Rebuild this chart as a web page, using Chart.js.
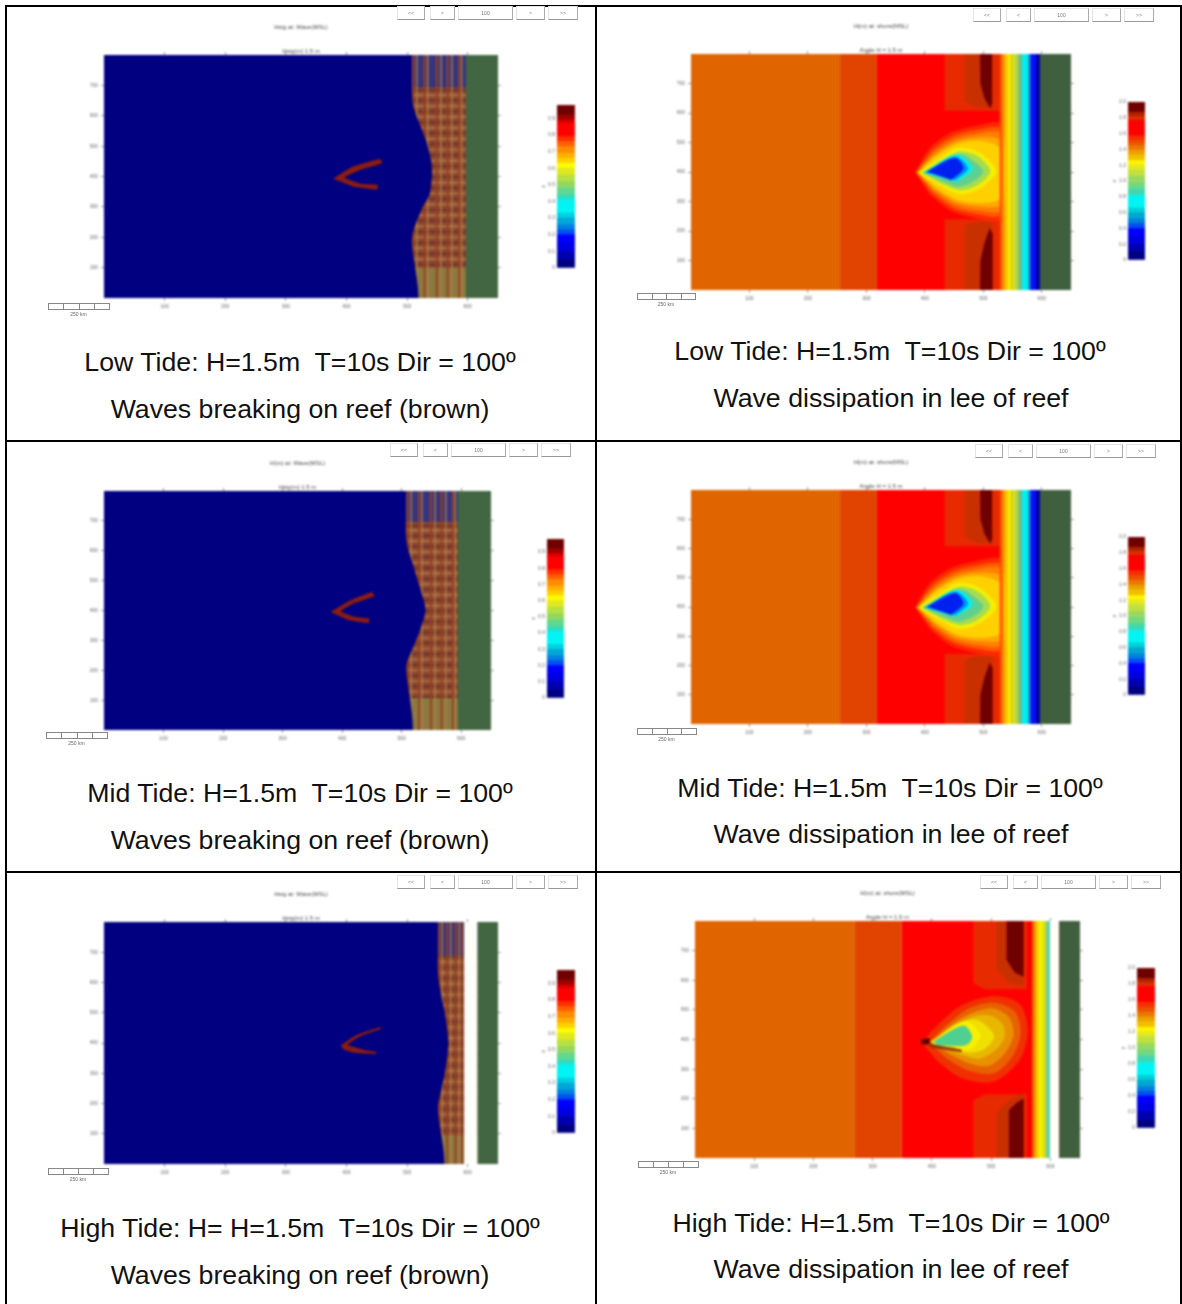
<!DOCTYPE html>
<html lang="en">
<head>
<meta charset="UTF-8">
<title>Wave model results by tide</title>
<script src="https://cdn.jsdelivr.net/npm/chart.js"></script>
<style>
  html, body { margin: 0; padding: 0; background: #fff; }
  #page { position: relative; width: 1182px; height: 1304px; overflow: hidden; font-family: "Liberation Sans", Arial, sans-serif; }
  .rule { position: absolute; background: #000; }
  .cap { position: absolute; font-size: 26.7px; line-height: 30px; color: #111; white-space: pre; transform: translateX(-50%); }
  canvas { position: absolute; filter: blur(0.8px); }
  .tool { position: absolute; box-sizing: border-box; border: 1px solid #e4e4e4; border-bottom-color: #999; border-right-color: #aaa; font-size: 5px; color: #777; text-align: center; filter: blur(0.4px); }
  .cell { position: absolute; box-sizing: border-box; border: 1px solid #888; filter: blur(0.4px); }
  .km { position: absolute; font-size: 5px; color: #666; transform: translateX(-50%); filter: blur(0.3px); }
</style>
</head>
<body>
<div id="page"></div>
<script>
// axis ticks
const xTicks = [100, 200, 300, 400, 500, 600];
const yTicks = [100, 200, 300, 400, 500, 600, 700];
const barTicksWave = [0, 0.1, 0.2, 0.3, 0.4, 0.5, 0.6, 0.7, 0.8, 0.9];
const barTicksHeight = [0, 0.2, 0.4, 0.6, 0.8, 1, 1.2, 1.4, 1.6, 1.8, 2];
const toolLabels = ['<<', '<', '100', '>', '>>'];

// captions
const tideLow = 'Low Tide: H=1.5m  T=10s Dir = 100º';
const tideMid = 'Mid Tide: H=1.5m  T=10s Dir = 100º';
const tideHighA = 'High Tide: H= H=1.5m  T=10s Dir = 100º';
const tideHighB = 'High Tide: H=1.5m  T=10s Dir = 100º';
const noteBreak = 'Waves breaking on reef (brown)';
const noteDiss = 'Wave dissipation in lee of reef';

// colour bar level widths, bottom to top
const barStepsWave = [0.05, 0.05, 0.05, 0.05, 0.03, 0.03, 0.04, 0.03, 0.08, 0.03, 0.04, 0.04, 0.04, 0.04, 0.03, 0.03, 0.03, 0.04, 0.03, 0.03, 0.08, 0.02, 0.03, 0.06];
const barStepsHeight = [0.1, 0.1, 0.1, 0.1, 0.06, 0.06, 0.08, 0.06, 0.16, 0.08, 0.08, 0.08, 0.08, 0.06, 0.06, 0.07, 0.06, 0.06, 0.06, 0.06, 0.2, 0.05, 0.05, 0.13];

// breaking zone mesh, model coordinates (m)
const meshX = [510, 516, 529, 534, 549, 556, 567, 574, 586, 590];
const meshXHigh = [553, 558, 566, 572, 580, 586, 591];
const meshYDark = [110, 146, 182, 218, 254, 290, 326, 362, 398, 434, 470, 506, 542, 578, 614, 650, 684];
const meshYTan = [128, 164, 200, 236, 272, 308, 344, 380, 416, 452, 488, 524, 560, 596, 632, 668];

// edge of the unbroken water
const shoreLow = [[508, 850], [508, 680], [511, 625], [530, 526], [540, 450], [541, 400], [537, 340], [525, 296], [511, 225], [508, 190], [508, -50], [-50, -50], [-50, 850]];
const shoreMid = [[507, 850], [507, 660], [510, 612], [518, 560], [530, 480], [540, 401], [530, 330], [518, 270], [508, 217], [507, -50], [-50, -50], [-50, 850]];
const shoreHigh = [[551, 850], [551, 631], [556, 560], [564, 480], [568, 400], [564, 320], [556, 240], [551, 189], [551, -50], [-50, -50], [-50, 850]];

// reef outlines
const reefLow = [[378, 393], [410, 432], [455, 458], [459, 444], [426, 424], [397, 397], [425, 376], [452, 372], [450, 357], [412, 366]];
const reefMid = [[380, 395], [412, 432], [450, 462], [454, 448], [420, 424], [398, 397], [424, 378], [446, 372], [444, 358], [410, 368]];
const reefHigh = [[390, 392], [415, 425], [455, 452], [457, 446], [425, 424], [402, 394], [428, 378], [450, 370], [448, 364], [412, 368], [396, 378]];

// land and dry strips as x ranges
const landLow = [597, 650];
const landMid = [594, 650];
const landHigh = [616, 650];
const dryHigh = [594, 616];

// height field: offshore steps
const stepsLow = [255, 318];
const stepsHigh = [270, 349];

// height field: bands at the shore
const shoreBandsLow = [528, 532, 536, 541, 548, 556, 562, 566, 577, 581, 590, 598];
const shoreBandsHigh = [569, 574, 578, 589, 594, 599];

// height field: sheltered patches behind the reef
const patchOuterTop = [[434, 850], [434, 608], [528, 608], [528, 850]];
const patchMidTop = [[468, 850], [468, 640], [492, 618], [516, 618], [516, 850]];
const patchDarkTop = [[494, 850], [495, 700], [502, 650], [512, 615], [516, 640], [515, 850]];
const patchOuterBot = [[434, -50], [434, 240], [528, 240], [528, -50]];
const patchMidBot = [[468, -50], [468, 220], [492, 232], [516, 232], [516, -50]];
const patchDarkBot = [[494, -50], [495, 100], [502, 160], [511, 210], [516, 190], [516, -50]];

const patchOuterTopHigh = [[470, 850], [470, 590], [490, 570], [560, 570], [560, 850]];
const patchMidTopHigh = [[509, 850], [509, 640], [530, 590], [555, 582], [555, 850]];
const patchDarkTopHigh = [[526, 850], [526, 669], [540, 625], [555, 612], [555, 850]];
const patchOuterBotHigh = [[470, -50], [470, 195], [490, 215], [560, 215], [560, -50]];
const patchMidBotHigh = [[509, -50], [509, 150], [530, 195], [555, 220], [555, -50]];
const patchDarkBotHigh = [[530, -50], [530, 162], [542, 185], [555, 201], [555, -50]];

// height field: contours in the lee of the reef, outermost first
const haloLow = [
  [[383, 398], [408, 480], [443, 532], [483, 555], [531, 562], [540, 400], [531, 238], [483, 245], [443, 270], [408, 325]],
  [[385, 398], [412, 472], [447, 520], [487, 542], [531, 545], [540, 400], [531, 255], [487, 258], [447, 280], [412, 330]],
  [[386, 398], [415, 465], [450, 510], [490, 530], [531, 530], [540, 400], [531, 270], [490, 270], [450, 290], [415, 335]],
  [[387, 398], [418, 460], [452, 502], [493, 518], [531, 505], [540, 400], [531, 290], [493, 283], [452, 298], [418, 340]],
  [[388, 398], [420, 455], [455, 495], [495, 505], [530, 480], [540, 400], [530, 310], [495, 295], [455, 305], [420, 345]],
  [[389, 398], [425, 445], [457, 482], [494, 465], [522, 402], [494, 345], [460, 325], [425, 355]],
  [[394, 398], [430, 440], [460, 470], [492, 452], [512, 402], [490, 355], [460, 338], [428, 360]],
  [[397, 398], [432, 432], [462, 460], [488, 430], [500, 402], [485, 370], [458, 350], [430, 368]],
  [[398, 398], [454, 460], [482, 410], [454, 367]],
  [[400, 398], [452, 452], [474, 412], [452, 372]],
  [[404, 402], [451, 448], [466, 412], [445, 373]]
];
const haloHigh = [
  [[383, 390], [410, 450], [450, 515], [504, 547], [548, 520], [562, 430], [548, 330], [504, 258], [450, 270], [410, 325]],
  [[395, 390], [425, 450], [462, 505], [504, 525], [540, 495], [550, 420], [535, 340], [504, 285], [462, 295], [425, 335]],
  [[400, 390], [430, 445], [468, 490], [504, 505], [530, 475], [538, 415], [522, 350], [495, 310], [462, 320], [430, 350]],
  [[402, 390], [435, 445], [470, 478], [500, 480], [520, 450], [522, 405], [505, 360], [480, 335], [455, 345], [432, 360]],
  [[405, 392], [445, 450], [470, 468], [490, 450], [505, 410], [490, 370], [465, 355], [440, 365]],
  [[398, 393], [455, 462], [482, 415], [465, 368], [410, 372]],
  [[402, 393], [453, 447], [468, 410], [458, 381], [410, 380]]
];
const reefTipHigh = [[382, 400], [396, 404], [396, 384], [382, 384]];
const reefArmHigh = [[396, 386], [450, 366], [450, 358], [396, 374]];

// styles
const waveBarColors = ['#000080', '#0000b0', '#0000e0', '#0000ff', '#0050f0', '#0080e0', '#00a8d8', '#00d0e0', '#00f4f4', '#30dcc0', '#60d890', '#90d860', '#b8e040', '#e0e820', '#fcfc00', '#ffd000', '#ffb000', '#ff8c00', '#ff6000', '#ff3000', '#ff0000', '#d80000', '#a00000', '#700000'];
const heightBarColors = ['#000080', '#0000b0', '#0000e0', '#0000ff', '#0050f0', '#0080e0', '#00a8d0', '#00d0d8', '#00f4f4', '#40d8b0', '#70d880', '#98d860', '#c0e040', '#e0e820', '#fcf400', '#f0c000', '#eca000', '#e87800', '#ee5000', '#f43000', '#ff0000', '#d83000', '#b02000', '#700000'];
const bandColorsLow = ['#ff5000', '#ff9000', '#ffc800', '#f0f000', '#d0e020', '#a0d060', '#50d0a0', '#00f0f0', '#00a0f0', '#0010ff', '#0000a0'];
const bandColorsHigh = ['#ff7000', '#ffc000', '#f0f000', '#c0e040', '#40d8c0'];
const haloColorsLow = ['#ff2800', '#ff5800', '#ff8000', '#ffa800', '#ffd000', '#f4f000', '#a8dc50', '#60d090', '#00f0f0', '#0090f0', '#0020f0'];
const haloColorsHigh = ['#f03000', '#e86000', '#e89000', '#e8b800', '#f0e000', '#f8f000', '#50d090'];
const OCEAN = '#000080', LAND_A = '#426642', LAND_B = '#3f5f3f', WHITE = '#fffef8';

const X_MAX = 650, Y_MAX = 800;
const page = document.getElementById('page');

function poly(pts, color, tension) {
  return {
    data: pts.map(p => ({ x: p[0], y: p[1] })),
    backgroundColor: color, borderWidth: 0, fill: 'shape', pointRadius: 0, tension: tension || 0
  };
}
function rect(x0, x1, color) {
  return poly([[x0, -50], [x1, -50], [x1, 850], [x0, 850]], color);
}
function box(x0, x1, y0, y1, color) {
  return poly([[x0, y0], [x1, y0], [x1, y1], [x0, y1]], color);
}
// a family of mesh lines, broken apart with NaN
function vLines(xs, y0, y1, color, width) {
  const data = [];
  xs.forEach(x => { data.push({ x, y: y0 }, { x, y: y1 }, { x, y: NaN }); });
  return { data, borderColor: color, borderWidth: width, fill: false, pointRadius: 0, tension: 0 };
}
function hLines(ys, x0, x1, color, width) {
  const data = [];
  ys.forEach(y => { data.push({ x: x0, y }, { x: x1, y }, { x: NaN, y }); });
  return { data, borderColor: color, borderWidth: width, fill: false, pointRadius: 0, tension: 0 };
}

function waveLayers(o) {
  const brown = o.meshX.filter((v, i) => i % 2 === 0);
  const tan = o.meshX.filter((v, i) => i % 2 === 1);
  const layers = [
    rect(500, X_MAX + 50, '#8e4830'),
    box(500, 700, o.topBand, 850, '#35347f'),
    box(500, 700, -50, o.botBand, '#8a7a40'),
    hLines(meshYDark.filter(y => y > o.botBand && y < o.topBand), 500, 700, '#5c2c28', 1.5),
    hLines(meshYTan.filter(y => y > o.botBand && y < o.topBand), 500, 700, '#b88c58', 1.2),
    vLines(brown, 0, 800, '#9a4020', 2),
    vLines(tan, 0, 800, '#b08048', 1.4),
    poly(o.shore, OCEAN, 0.25),
    poly(o.reef, '#8c1c10', 0.15),
    rect(o.land[0], 700, LAND_A)
  ];
  if (o.dry) layers.push(rect(o.dry[0], o.dry[1], WHITE));
  return layers;
}

function heightLayers(o) {
  const layers = [
    rect(-50, o.steps[0], '#e06400'),
    rect(o.steps[0], o.steps[1], '#e04400'),
    rect(o.steps[1], 700, '#ff0000')
  ];
  const colors = ['#e82a00', '#c83000', '#700000'];
  o.patches.forEach((p, i) => layers.push(poly(p, colors[i % 3])));
  o.halo.forEach((h, i) => layers.push(poly(h, o.haloColors[i], 0.3)));
  (o.extra || []).forEach(e => layers.push(poly(e[0], e[1], 0.1)));
  o.bands.slice(0, -1).forEach((x, i) => layers.push(rect(x, o.bands[i + 1], o.bandColors[i])));
  if (o.dry) layers.push(rect(o.dry[0], o.dry[1], WHITE));
  layers.push(rect(o.land[0], 700, LAND_B));
  return layers;
}

const patchesLow = [patchOuterTop, patchMidTop, patchDarkTop, patchOuterBot, patchMidBot, patchDarkBot];
const patchesHigh = [patchOuterTopHigh, patchMidTopHigh, patchDarkTopHigh, patchOuterBotHigh, patchMidBotHigh, patchDarkBotHigh];

const panels = [
  { plot: [104, 498, 55, 298], bar: [557, 575, 105, 268], kind: 'wave', tool: [397, 6], scale: [48, 109, 303], title: 'Hsig at: Wave(MSL)', sub: 'Hsig(m) 1.5 m',
    layers: waveLayers({ meshX, topBand: 692, botBand: 100, shore: shoreLow, reef: reefLow, land: landLow }) },
  { plot: [691, 1071, 54, 290], bar: [1128, 1145, 102, 260], kind: 'height', tool: [973, 8], scale: [637, 695, 293], title: 'H(m) at: shore(MSL)', sub: 'Angle H = 1.5 m',
    layers: heightLayers({ steps: stepsLow, patches: patchesLow, halo: haloLow, haloColors: haloColorsLow, bands: shoreBandsLow, bandColors: bandColorsLow, land: landLow }) },
  { plot: [104, 491, 491, 730], bar: [547, 564, 539, 698], kind: 'wave', tool: [390, 443], scale: [46, 107, 732], title: 'H(m) at: Wave(MSL)', sub: 'Hsig(m) 1.5 m',
    layers: waveLayers({ meshX, topBand: 696, botBand: 107, shore: shoreMid, reef: reefMid, land: landMid }) },
  { plot: [691, 1071, 490, 724], bar: [1128, 1145, 537, 695], kind: 'height', tool: [975, 444], scale: [637, 696, 728], title: 'H(m) at: shore(MSL)', sub: 'Angle H = 1.5 m',
    layers: heightLayers({ steps: stepsLow, patches: patchesLow, halo: haloLow, haloColors: haloColorsLow, bands: shoreBandsLow, bandColors: bandColorsLow, land: landLow }) },
  { plot: [104, 498, 922, 1164], bar: [557, 575, 970, 1133], kind: 'wave', tool: [397, 875], scale: [48, 108, 1168], title: 'Hsig at: Wave(MSL)', sub: 'Hsig(m) 1.5 m',
    layers: waveLayers({ meshX: meshXHigh, topBand: 688, botBand: 96, shore: shoreHigh, reef: reefHigh, land: landHigh, dry: dryHigh }) },
  { plot: [695, 1080, 921, 1158], bar: [1137, 1155, 968, 1128], kind: 'height', tool: [980, 875], scale: [638, 698, 1161], title: 'H(m) at: shore(MSL)', sub: 'Angle H = 1.5 m',
    layers: heightLayers({ steps: stepsHigh, patches: patchesHigh, halo: haloHigh, haloColors: haloColorsHigh, extra: [[reefTipHigh, '#600000'], [reefArmHigh, '#903010']], bands: shoreBandsHigh, bandColors: bandColorsHigh, dry: [599, 615], land: [615, 650] }) }
];

function addCanvas(left, top, w, h) {
  const c = document.createElement('canvas');
  c.width = w; c.height = h;
  c.style.left = left + 'px'; c.style.top = top + 'px';
  c.style.width = w + 'px'; c.style.height = h + 'px';
  page.appendChild(c);
  return c;
}

const PAD_SIDE = 40, PAD_TOP = 35, PAD_BOT = 24;
const smallFont = { size: 5, family: '"Liberation Sans", Arial, sans-serif' };
const titleFont = { size: 6, weight: 'normal', lineHeight: 1, family: smallFont.family };

function drawPanel(p) {
  const [l, r, t, b] = p.plot;
  const c = addCanvas(l - PAD_SIDE, t - PAD_TOP, r - l + 2 * PAD_SIDE, b - t + PAD_TOP + PAD_BOT);
  const datasets = p.layers.map((d, i) => Object.assign({ order: p.layers.length - i }, d));
  const side = { drawOnChartArea: false, tickLength: 3, color: '#999' };
  new Chart(c, {
    type: 'line',
    data: { datasets },
    options: {
      responsive: false,
      animation: false,
      parsing: { xAxisKey: 'x', yAxisKey: 'y' },
      layout: { autoPadding: false, padding: 0 },
      plugins: {
        legend: { display: false },
        tooltip: { enabled: false },
        title: { display: true, text: p.title, color: '#444', font: titleFont, padding: { top: 4, bottom: 0 } },
        subtitle: { display: true, text: p.sub, color: '#444', font: titleFont, padding: { top: 18, bottom: 1 } }
      },
      scales: {
        x: {
          type: 'linear', min: 0, max: X_MAX, position: 'bottom',
          afterBuildTicks: s => { s.ticks = xTicks.map(value => ({ value })); },
          afterFit: s => { s.height = PAD_BOT; },
          ticks: { color: '#666', font: smallFont, padding: 3, autoSkip: false, maxRotation: 0 },
          grid: side, border: { display: false }
        },
        y: {
          type: 'linear', min: 0, max: Y_MAX, position: 'left',
          afterBuildTicks: s => { s.ticks = yTicks.map(value => ({ value })); },
          afterFit: s => { s.width = PAD_SIDE; },
          ticks: { color: '#666', font: smallFont, padding: 3, autoSkip: false },
          grid: side, border: { display: false }
        },
        x2: {
          type: 'linear', axis: 'x', min: 0, max: X_MAX, position: 'top',
          afterBuildTicks: s => { s.ticks = xTicks.map(value => ({ value })); },
          afterFit: s => { s.height = 0; },
          ticks: { display: false }, grid: side, border: { display: false }
        },
        y2: {
          type: 'linear', axis: 'y', min: 0, max: Y_MAX, position: 'right',
          afterBuildTicks: s => { s.ticks = yTicks.map(value => ({ value })); },
          afterFit: s => { s.width = PAD_SIDE; },
          ticks: { display: false }, grid: side, border: { display: false }
        }
      }
    }
  });
}

function drawBar(p) {
  const [l, r, t, b] = p.bar;
  const padLeft = 16, padV = 5;
  const c = addCanvas(l - padLeft, t - padV, r - l + padLeft + 1, b - t + 2 * padV);
  const steps = p.kind === 'wave' ? barStepsWave : barStepsHeight;
  const colors = p.kind === 'wave' ? waveBarColors : heightBarColors;
  const ticks = p.kind === 'wave' ? barTicksWave : barTicksHeight;
  new Chart(c, {
    type: 'bar',
    data: {
      labels: [''],
      datasets: steps.map((v, i) => ({ data: [v], backgroundColor: colors[i], borderWidth: 0, barPercentage: 1, categoryPercentage: 1 }))
    },
    options: {
      responsive: false,
      animation: false,
      layout: { autoPadding: false, padding: { top: padV, bottom: padV, right: 1 } },
      plugins: { legend: { display: false }, tooltip: { enabled: false } },
      scales: {
        x: { stacked: true, display: false },
        y: {
          stacked: true, min: 0, max: p.kind === 'wave' ? 0.98 : 2,
          afterBuildTicks: s => { s.ticks = ticks.map(value => ({ value })); },
          afterFit: s => { s.width = padLeft; },
          title: { display: true, text: 'z', color: '#555', font: smallFont, padding: 0 },
          ticks: { color: '#666', font: smallFont, padding: 2, autoSkip: false },
          grid: { display: true, drawOnChartArea: false, drawTicks: false }, border: { display: false }
        }
      }
    }
  });
}

// toolbar and scale box are plain page furniture around the charts
const toolOffsets = [[0, 28], [33, 58], [61, 116], [119, 148], [151, 181]];
function drawFurniture(p) {
  toolOffsets.forEach((o, i) => {
    const d = document.createElement('div');
    d.className = 'tool';
    d.textContent = toolLabels[i];
    d.style.cssText = `left:${p.tool[0] + o[0]}px;top:${p.tool[1]}px;width:${o[1] - o[0]}px;height:14px;line-height:12px`;
    page.appendChild(d);
  });
  const [x0, x1, y] = p.scale;
  const w = (x1 - x0) / 4;
  for (let i = 0; i < 4; i++) {
    const d = document.createElement('div');
    d.className = 'cell';
    d.style.cssText = `left:${x0 + i * w}px;top:${y}px;width:${w + 1}px;height:7px`;
    page.appendChild(d);
  }
  const k = document.createElement('div');
  k.className = 'km';
  k.textContent = '250 km';
  k.style.cssText = `left:${(x0 + x1) / 2}px;top:${y + 8}px`;
  page.appendChild(k);
}

// table rules
[[5, 5, 2, 1299], [595, 5, 2, 1299], [1180, 5, 2, 1299], [5, 5, 1177, 2], [5, 440, 1177, 2], [5, 871, 1177, 2]].forEach(a => {
  const d = document.createElement('div');
  d.className = 'rule';
  d.style.cssText = `left:${a[0]}px;top:${a[1]}px;width:${a[2]}px;height:${a[3]}px`;
  page.appendChild(d);
});

// captions
[[tideLow, 300, 362], [noteBreak, 300, 409], [tideLow, 890, 351], [noteDiss, 891, 398],
 [tideMid, 300, 793], [noteBreak, 300, 840], [tideMid, 890, 788], [noteDiss, 891, 834],
 [tideHighA, 300, 1228], [noteBreak, 300, 1275], [tideHighB, 891, 1223], [noteDiss, 891, 1269]].forEach(a => {
  const d = document.createElement('div');
  d.className = 'cap';
  d.textContent = a[0];
  d.style.left = a[1] + 'px';
  d.style.top = (a[2] - 15) + 'px';
  page.appendChild(d);
});

panels.forEach(p => { drawPanel(p); drawBar(p); drawFurniture(p); });
</script>
</body>
</html>
